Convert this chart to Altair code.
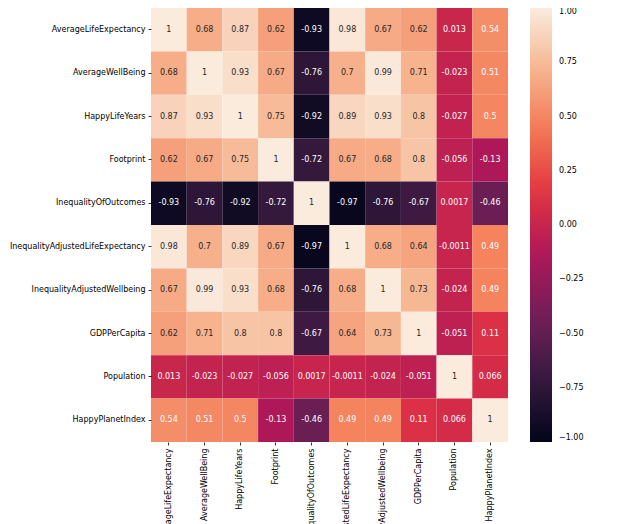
import altair as alt
import pandas as pd

names = [
    "AverageLifeExpectancy",
    "AverageWellBeing",
    "HappyLifeYears",
    "Footprint",
    "InequalityOfOutcomes",
    "InequalityAdjustedLifeExpectancy",
    "InequalityAdjustedWellbeing",
    "GDPPerCapita",
    "Population",
    "HappyPlanetIndex",
]

matrix = [
    [1, 0.68, 0.87, 0.62, -0.93, 0.98, 0.67, 0.62, 0.013, 0.54],
    [0.68, 1, 0.93, 0.67, -0.76, 0.7, 0.99, 0.71, -0.023, 0.51],
    [0.87, 0.93, 1, 0.75, -0.92, 0.89, 0.93, 0.8, -0.027, 0.5],
    [0.62, 0.67, 0.75, 1, -0.72, 0.67, 0.68, 0.8, -0.056, -0.13],
    [-0.93, -0.76, -0.92, -0.72, 1, -0.97, -0.76, -0.67, 0.0017, -0.46],
    [0.98, 0.7, 0.89, 0.67, -0.97, 1, 0.68, 0.64, -0.0011, 0.49],
    [0.67, 0.99, 0.93, 0.68, -0.76, 0.68, 1, 0.73, -0.024, 0.49],
    [0.62, 0.71, 0.8, 0.8, -0.67, 0.64, 0.73, 1, -0.051, 0.11],
    [0.013, -0.023, -0.027, -0.056, 0.0017, -0.0011, -0.024, -0.051, 1, 0.066],
    [0.54, 0.51, 0.5, -0.13, -0.46, 0.49, 0.49, 0.11, 0.066, 1],
]

legend_values = [-1.0, -0.75, -0.5, -0.25, 0.0, 0.25, 0.5, 0.75, 1.0]

# rocket colormap stops
rocket = ["#03051a", "#35193e", "#701f57", "#ad1759", "#e13342", "#f37651", "#f6b48f", "#faebdd"]
rocket_domain = [-1 + 2 * k / 7 for k in range(8)]

records = []
for i, r in enumerate(names):
    for j, c in enumerate(names):
        v = matrix[i][j]
        records.append({"row": r, "col": c, "value": v, "label": format(v, ".2g")})
df = pd.DataFrame(records)

FONT = "DejaVu Sans"

x_enc = alt.X(
    "col:N", sort=names, title=None,
    scale=alt.Scale(paddingInner=0, paddingOuter=0),
    axis=alt.Axis(labelAngle=270, labelFontSize=8, labelFont=FONT, labelColor="black",
                  tickColor="black", tickSize=3, tickWidth=0.8, labelPadding=3, domain=False),
)
y_enc = alt.Y(
    "row:N", sort=names, title=None,
    scale=alt.Scale(paddingInner=0, paddingOuter=0),
    axis=alt.Axis(labelFontSize=8, labelFont=FONT, labelColor="black",
                  tickColor="black", tickSize=3, tickWidth=0.8, labelPadding=3, domain=False),
)

rects = alt.Chart(df).mark_rect(strokeWidth=0).encode(
    x=x_enc,
    y=y_enc,
    color=alt.Color(
        "value:Q",
        scale=alt.Scale(domain=rocket_domain, range=rocket, interpolate="rgb"),
        legend=alt.Legend(
            title=None, orient="right", offset=22, padding=0, direction="vertical",
            gradientLength=434, gradientThickness=22, gradientStrokeWidth=0,
            values=legend_values, format=".2f", labelFontSize=8, labelFont=FONT,
            labelColor="black", labelOffset=7, labelOverlap=False,
            labelBaseline="middle",
        ),
    ),
)

texts = alt.Chart(df).mark_text(fontSize=8, font=FONT, align="center", baseline="middle").encode(
    x=alt.X("col:N", sort=names),
    y=alt.Y("row:N", sort=names),
    text="label:N",
    color=alt.condition(alt.datum.value >= 0.6, alt.value("#262626"), alt.value("white")),
)

chart = alt.layer(rects, texts).properties(
    width=357, height=434,
    padding={"left": 1, "top": 0, "right": 5, "bottom": 5},
).configure_view(strokeWidth=0)

chart.save("out.html", embed_options={"renderer": "svg", "actions": False})
